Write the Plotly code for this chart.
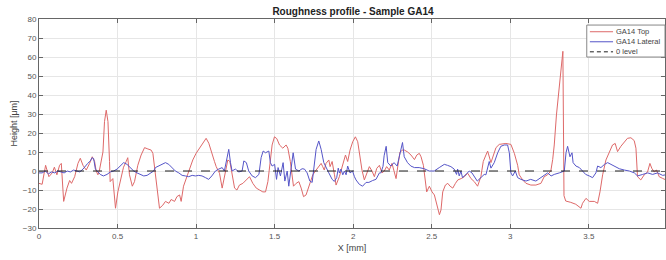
import plotly.graph_objects as go

# ---- data ----
top_x = [0.000, 0.02, 0.042, 0.063, 0.084, 0.098, 0.114, 0.131, 0.142, 0.157, 0.178, 0.195, 0.207, 0.227,
         0.248, 0.263, 0.28, 0.301, 0.322, 0.339, 0.354, 0.364, 0.375, 0.385, 0.407, 0.417, 0.428, 0.439,
         0.449, 0.453, 0.47, 0.487, 0.502, 0.523, 0.538, 0.555, 0.565, 0.576, 0.594, 0.608, 0.629, 0.65,
         0.672, 0.693, 0.714, 0.725, 0.742, 0.757, 0.767, 0.788, 0.805, 0.827, 0.841, 0.863, 0.878, 0.895,
         0.905, 0.92, 0.937, 0.958, 0.979, 1.0, 1.022, 1.047, 1.064, 1.081, 1.096, 1.117, 1.128, 1.149,
         1.166, 1.18, 1.202, 1.215, 1.234, 1.245, 1.26, 1.276, 1.298, 1.319, 1.34, 1.361, 1.383, 1.404,
         1.425, 1.442, 1.457, 1.472, 1.484, 1.499, 1.514, 1.531, 1.552, 1.573, 1.584, 1.6, 1.611, 1.62,
         1.637, 1.654, 1.669, 1.684, 1.7, 1.721, 1.743, 1.764, 1.781, 1.796, 1.806, 1.816, 1.827, 1.845,
         1.853, 1.866, 1.881, 1.891, 1.912, 1.934, 1.951, 1.965, 1.98, 1.997, 2.014, 2.029, 2.039, 2.056,
         2.071, 2.086, 2.103, 2.12, 2.135, 2.15, 2.167, 2.183, 2.198, 2.213, 2.23, 2.247, 2.262, 2.273,
         2.285, 2.298, 2.315, 2.326, 2.347, 2.368, 2.39, 2.405, 2.421, 2.432, 2.447, 2.46, 2.468, 2.485,
         2.502, 2.517, 2.528, 2.538, 2.549, 2.559, 2.57, 2.587, 2.602, 2.617, 2.634, 2.651, 2.666, 2.687,
         2.708, 2.729, 2.75, 2.771, 2.792, 2.813, 2.828, 2.845, 2.856, 2.877, 2.887, 2.909, 2.93, 2.972,
         3.004, 3.026, 3.047, 3.057, 3.079, 3.1, 3.131, 3.163, 3.195, 3.216, 3.237, 3.258, 3.27, 3.28,
         3.294, 3.311, 3.322, 3.335, 3.342, 3.353, 3.385, 3.417, 3.45, 3.46, 3.482, 3.503, 3.535, 3.556,
         3.571, 3.588, 3.609, 3.63, 3.651, 3.668, 3.683, 3.704, 3.725, 3.746, 3.768, 3.789, 3.8, 3.81,
         3.831, 3.853, 3.874, 3.889, 3.901, 3.916, 3.931, 3.948, 3.97, 3.991]
top_y = [-6.5, -7, 3, -3, -1, 2, -2, 3, 4, -16, -9, -5, -6.5, -3,
         4, 6.7, 3, 0.5, 4, 7.5, 5, 0, -2, 0.5, 10, 26, 32, 26,
         5, -5.6, -4, -19.6, -11, -4, 2, 5, 7, -2, -8, -5.6, 3, 8.4,
         12.3, 11.6, 11, 9.3, -2, -14, -19.6, -18, -16, -17, -15, -16, -13.5, -12.6,
         -16, -8, -4, 1.4, 5.8, 9.3, 12, 15.4, 17.2, 14.6, 10.2, 5, 2.3, -1.2,
         -9, -3, 5.8, 5, -4, -9, -10, -7.4, -6.5, -4.7, -3, -6.5, -9, -10,
         -11, -11, -5.6, 5, 13.7, 18, 17, 13.7, 12, 13.7, 12, 5, -2, -8,
         -6.5, -5.6, -9, -13.5, -12.6, -7.4, -2, 0.5, 2.3, 4, 2.3, 0.5, 4, 5.8,
         2.3, 5, -2, -7.4, -3, 3, 8.4, 5, 11, 15.4, 18, 15.4, 9.3, 0.5,
         -4.7, -1, 2.3, 0, -3, 1.4, 3, -1, 0, 2.3, 0.5, 4, 0, -4,
         3, 10, 11, 11, 10, 8.4, 6, 8.4, 9.3, 7.5, 3, -5.6, -11, -8,
         -11, -12.6, -16, -19.6, -23, -20.5, -11, -7.4, -6.5, -8, -9, -6.5, -4.7, -4,
         -3, -1.2, -4, -5.6, -8, -3, 5, 8.4, 10.5, 4.4, 7, 12.3, 14, 14.5,
         14, 9.3, 3, -2, -4.7, -6.5, -7.4, -7.4, -6.5, -3, -2, 0, 6, 13.7,
         29.5, 45, 52, 63, -13, -15.8, -16.5, -17.5, -19.6, -17, -14.4, -16, -16, -17,
         -11, -2, 5.8, 10, 13.7, 14.5, 10.2, 13, 15.4, 17.2, 17.5, 16, 12, -3,
         -4.7, -2, -0.5, 4, 1.4, -0.5, 0.5, -3, -3.9, -4.7]

lat_x = [0.0, 0.02, 0.04, 0.06, 0.08, 0.1, 0.12, 0.14, 0.16, 0.18, 0.2, 0.22, 0.24, 0.26, 0.28, 0.295,
         0.31, 0.327, 0.338, 0.348, 0.359, 0.37, 0.39, 0.41, 0.433, 0.454, 0.475, 0.497, 0.518, 0.539,
         0.56, 0.582, 0.603, 0.624, 0.645, 0.667, 0.688, 0.709, 0.73, 0.741, 0.762, 0.783, 0.805, 0.826,
         0.847, 0.868, 0.89, 0.911, 0.932, 0.953, 0.975, 0.996, 1.017, 1.038, 1.06, 1.08, 1.10, 1.123,
         1.144, 1.166, 1.18, 1.197, 1.208, 1.219, 1.229, 1.25, 1.272, 1.293, 1.304, 1.32, 1.335, 1.357,
         1.378, 1.4, 1.414, 1.427, 1.442, 1.463, 1.473, 1.484, 1.5, 1.512, 1.522, 1.537, 1.554, 1.565,
         1.58, 1.59, 1.605, 1.618, 1.633, 1.654, 1.675, 1.69, 1.707, 1.724, 1.739, 1.75, 1.764, 1.781,
         1.796, 1.813, 1.83, 1.845, 1.866, 1.88, 1.895, 1.905, 1.912, 1.922, 1.934, 1.944, 1.955, 1.965,
         1.98, 1.996, 2.008, 2.018, 2.039, 2.06, 2.082, 2.1, 2.124, 2.145, 2.167, 2.176, 2.19, 2.197,
         2.21, 2.22, 2.24, 2.26, 2.28, 2.30, 2.314, 2.325, 2.346, 2.367, 2.39, 2.42, 2.452, 2.484,
         2.516, 2.548, 2.58, 2.6, 2.622, 2.643, 2.658, 2.665, 2.675, 2.686, 2.696, 2.718, 2.739, 2.756,
         2.77, 2.79, 2.813, 2.834, 2.845, 2.856, 2.866, 2.877, 2.898, 2.92, 2.94, 2.962, 2.983, 2.994,
         3.004, 3.015, 3.032, 3.047, 3.068, 3.1, 3.13, 3.163, 3.195, 3.217, 3.238, 3.26, 3.28, 3.312,
         3.344, 3.355, 3.365, 3.38, 3.393, 3.4, 3.418, 3.44, 3.46, 3.48, 3.503, 3.524, 3.545, 3.556,
         3.577, 3.6, 3.62, 3.64, 3.662, 3.694, 3.726, 3.758, 3.79, 3.81, 3.843, 3.875, 3.906, 3.938,
         3.97, 3.99]
lat_y = [-1, -1, 0, -1.5, -0.5, -1, 0, -0.5, -1, 0, -0.5, 0.5, 0, -0.5, 1, 2.6,
         4, 5.3, 7, 6.5, 1, 0, -1.8, -2.6, -1.8, -0.5, 0, 1, 2.6, 4.4,
         3.5, 1.8, 0, -1, -1.8, -2.6, -2.3, -1, 0, 1.8, 2.6, 3.5, 4.4, 3.5,
         1.8, 0, -1, -2.3, -2.6, -3, -2.3, -2.6, -2.3, -2.6, -3.5, -4.4, -2.6, 0,
         1, 1.8, 0, 6, 11.4, 4.4, 0, 1, -0.5, 0, 5.3, 4.4, 0, -2.6,
         -3.5, -1.8, 7, 10.5, 9.6, 10.5, 4.4, 2.6, 3.5, -4.4, 1.8, -2.6, 4.4, -5.3,
         0, -8, 1, 9.6, 1, 0, 1.2, 1, -1, -5.3, -6, 2.6, 11.4, 15.8,
         11.4, 4.4, 1, -1, -4.4, -5.5, -3.5, 1.5, -1, 1, -2, 0, -2, 2.6,
         -1, 0, -3, -4.7, -7, -8, -6, -6, -5, -4.4, -1, -1, 2.5, 8,
         13, 4.4, 2.6, 4.4, 2.6, 9.6, 15, 7.5, 4.4, 2.6, 1.8, 1.8, 1.2, 0,
         0, 1.8, 3.5, 3, 2.3, 1, -1.8, 1, -2.6, 0, -3.5, -1.8, 0, -1,
         -2.6, -5.3, -3.5, -1.8, -2, 1, 5, 1.5, 4.4, 9.6, 13, 13.7, 13.7, 9.6,
         -1, -2.6, 0, -3.5, -4.4, -5.3, -4.4, -5.3, -3.5, -2.6, -1, -2.6, -1.8, -1,
         0, 9.6, 13, 7.5, 9.6, 4.4, 2.6, 1.8, 0, -1.8, -2.6, -3.5, -1, 2.6,
         1.8, 3.5, 4.4, 3.5, 2.6, 1.2, 0.5, 0, -1, -2.6, -1.8, -1, -1.8, -1,
         -2.3, -2]

zero_x = [0, 4]
zero_y = [0, 0]

x_ticks = [0, 0.5, 1, 1.5, 2, 2.5, 3, 3.5, 4]
y_ticks = [-30, -20, -10, 0, 10, 20, 30, 40, 50, 60, 70, 80]

series_names = ["GA14 Top", "GA14 Lateral", "0 level"]
series_colors = ["rgb(222,105,105)", "rgb(85,85,200)", "rgb(30,30,30)"]
series_dash = ["solid", "solid", "dash"]

FONT = "Liberation Sans, Arial, sans-serif"

fig = go.Figure()
for xs, ys, nm, col, dsh in zip([top_x, lat_x, zero_x], [top_y, lat_y, zero_y],
                                series_names, series_colors, series_dash):
    fig.add_trace(go.Scatter(x=xs, y=ys, mode="lines", name=nm,
                             line=dict(color=col, width=1, dash=dsh), showlegend=False))

axis_common = dict(showline=True, linecolor="#666", linewidth=1, mirror="ticks",
                   ticks="inside", ticklen=4, tickcolor="#666", automargin=False,
                   showgrid=True, gridcolor="#e6e6e6", gridwidth=1, zeroline=False,
                   tickfont=dict(family=FONT, size=8, color="#555"))

fig.update_xaxes(range=[0, 3.985], tickvals=x_ticks, ticktext=[f"{t:g}" for t in x_ticks],
                 title=dict(text="X [mm]", font=dict(family=FONT, size=9, color="#444"), standoff=5),
                 **axis_common)
fig.update_yaxes(range=[-30, 80], tickvals=y_ticks,
                 title=dict(text="Height [μm]", font=dict(family=FONT, size=9, color="#444"), standoff=3),
                 **axis_common)

# legend box drawn in the upper-right corner of the axes (MATLAB-style compact legend)
leg_x0, leg_x1 = 0.875, 1.0
leg_y0, leg_y1 = 0.818, 0.971
row_y = [0.939, 0.891, 0.843]
fig.add_shape(type="rect", xref="paper", yref="paper", x0=leg_x0, x1=leg_x1, y0=leg_y0, y1=leg_y1,
              line=dict(color="#888", width=1), fillcolor="white", layer="above")
for ry, nm, col, dsh in zip(row_y, series_names, series_colors, series_dash):
    fig.add_shape(type="line", xref="paper", yref="paper", x0=0.880, x1=0.917, y0=ry, y1=ry,
                  line=dict(color=col, width=1, dash="4px,3px" if dsh == "dash" else "solid"),
                  layer="above")
    fig.add_annotation(x=0.919, y=ry, xref="paper", yref="paper", text=nm, showarrow=False,
                       xanchor="left", yanchor="middle",
                       font=dict(family=FONT, size=7.5, color="#444"))

fig.update_layout(
    width=666, height=260,
    margin=dict(l=39, r=1, t=19, b=32),
    paper_bgcolor="white", plot_bgcolor="white",
    title=dict(text="<b>Roughness profile - Sample GA14</b>", x=0.53, xanchor="center",
               y=0.957, yanchor="middle", font=dict(family=FONT, size=10, color="#222")),
    showlegend=False,
)

fig.write_html("out.html", config={"displayModeBar": False},
               post_script="document.body.style.margin='0';")
